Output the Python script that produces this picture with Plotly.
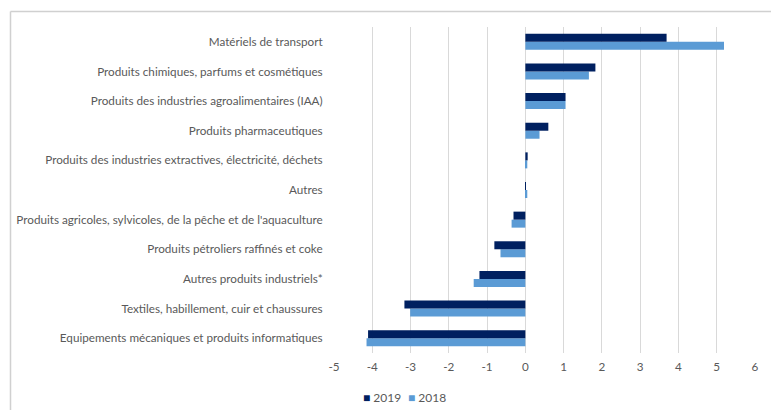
import plotly.graph_objects as go

# Categories, top to bottom as in the chart
categories = [
    "Matériels de transport",
    "Produits chimiques, parfums et cosmétiques",
    "Produits des industries agroalimentaires (IAA)",
    "Produits pharmaceutiques",
    "Produits des industries extractives, électricité, déchets",
    "Autres",
    "Produits agricoles, sylvicoles, de la pêche et de l'aquaculture",
    "Produits pétroliers raffinés et coke",
    "Autres produits industriels*",
    "Textiles, habillement, cuir et chaussures",
    "Equipements mécaniques et produits informatiques",
]
values_2019 = [3.69, 1.83, 1.05, 0.60, 0.06, 0.01, -0.31, -0.81, -1.20, -3.16, -4.11]
values_2018 = [5.19, 1.66, 1.05, 0.37, 0.05, 0.05, -0.36, -0.65, -1.35, -3.01, -4.15]
x_ticks = [-5, -4, -3, -2, -1, 0, 1, 2, 3, 4, 5, 6]
x_tick_labels = ["-5", "-4", "-3", "-2", "-1", "0", "1", "2", "3", "4", "5", "6"]

_C = {
    "y2019": "#002060",
    "y2018": "#5B9BD5",
    "grid": "#D9D9D9",
    "frame": "#D0D0D0",
    "text": "#595959",
}

# page body margin pushes the figure down/right; work in page pixels
OFF = 8
W, H = 779 - OFF, 411 - OFF
M = dict(l=334 - OFF, r=24, t=27 - OFF, b=58)
pw = W - M["l"] - M["r"]
ph = H - M["t"] - M["b"]


def px_x(p):
    return (p - OFF - M["l"]) / pw


def px_y(p):
    return (H - M["b"] - (p - OFF)) / ph


# plotly puts the first trace lowest in a horizontal group, so 2018 goes first
cats = categories[::-1]
fig = go.Figure()
fig.add_trace(go.Bar(
    y=cats, x=values_2018[::-1], orientation="h",
    name="2018", marker=dict(color=_C["y2018"], line_width=0),
))
fig.add_trace(go.Bar(
    y=cats, x=values_2019[::-1], orientation="h",
    name="2019", marker=dict(color=_C["y2019"], line_width=0),
))

# outer chart frame: only its top and left edges show in the picture
frame_line = dict(color=_C["frame"], width=1.5)
fig.add_shape(
    type="line", xref="paper", yref="paper",
    x0=px_x(10.5), x1=px_x(778), y0=px_y(11.5), y1=px_y(11.5),
    line=frame_line,
)
fig.add_shape(
    type="line", xref="paper", yref="paper",
    x0=px_x(10.5), x1=px_x(10.5), y0=px_y(11.5), y1=px_y(410),
    line=frame_line,
)

# Excel-style legend: small coloured square right next to the label
for name, color, xpos in [("2019", _C["y2019"], 361), ("2018", _C["y2018"], 406)]:
    fig.add_annotation(
        text=f"<span style='color:{color}'>■</span> {name}",
        xref="paper", yref="paper",
        x=px_x(xpos), y=px_y(397),
        xanchor="left", yanchor="middle",
        showarrow=False, font=dict(size=12, color=_C["text"]),
    )

fig.update_layout(
    width=W, height=H,
    margin=M,
    barmode="group",
    bargap=0.46,
    bargroupgap=0,
    showlegend=False,
    plot_bgcolor="#FFFFFF",
    paper_bgcolor="#FFFFFF",
    font=dict(family="Lato", size=11.7, color=_C["text"]),
    xaxis=dict(
        range=[-5, 6], tickvals=x_ticks, ticktext=x_tick_labels,
        showgrid=True, gridcolor=_C["grid"], gridwidth=1,
        zeroline=False, showline=False, automargin=False,
        ticks="outside", ticklen=3, tickcolor="rgba(0,0,0,0)",
    ),
    yaxis=dict(
        showgrid=False, zeroline=False, showline=False, automargin=False,
        ticks="outside", ticklen=8, tickcolor="rgba(0,0,0,0)",
    ),
)

fig.write_html("out.html")
